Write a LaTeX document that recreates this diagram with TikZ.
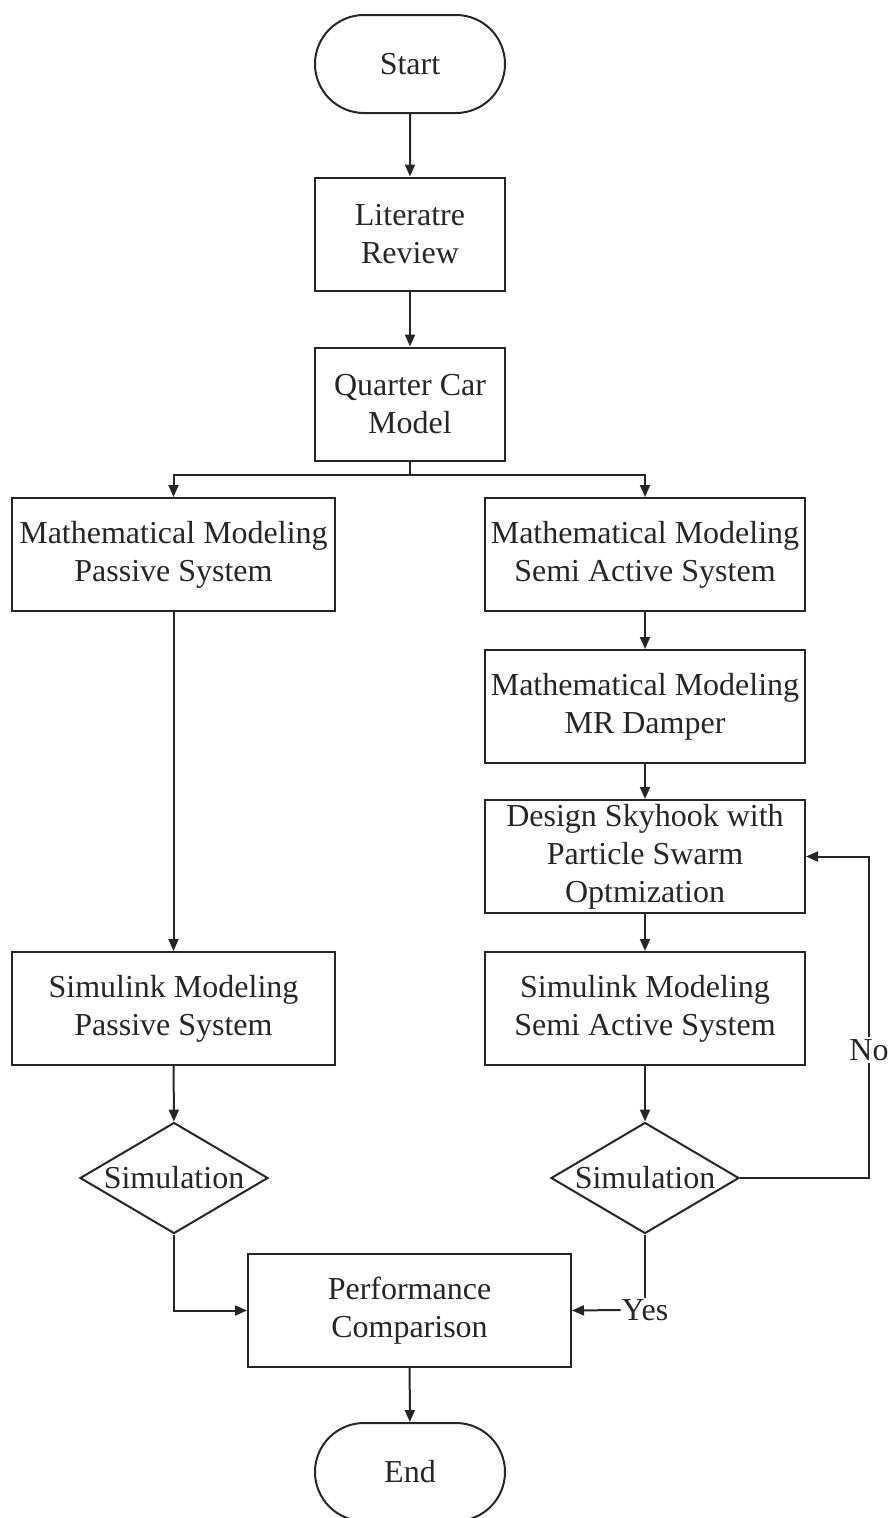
\documentclass[tikz,border=0pt]{standalone}
\usepackage{fontspec}
\setmainfont{Liberation Serif}
\usetikzlibrary{shapes.misc,shapes.geometric,arrows.meta,positioning}
\begin{document}
\begin{tikzpicture}[x=1pt,y=-1pt,
  every node/.style={font=\fontsize{32}{38}\selectfont, text=black!85},
  base/.style={draw=black!85, line width=2pt, align=center, inner sep=0pt},
  wide/.style={base, rectangle, minimum width=320pt, minimum height=113pt},
  narrow/.style={base, rectangle, minimum width=190pt, minimum height=113pt},
  term/.style={base, rounded rectangle, minimum width=190pt, minimum height=98pt},
  decide/.style={base, diamond, aspect=1.69, minimum width=188pt, minimum height=111pt},
  conn/.style={draw=black!85, line width=2pt},
  arr/.style={conn, -{Triangle[length=12pt,width=10pt]}}
]
\useasboundingbox (0,0) rectangle (890,1518);
\node[term] (start) at (410,64) {Start};
\node[narrow] (lit) at (410,234) {Literatre\\Review};
\node[narrow] (qcm) at (410,404) {Quarter Car\\Model};
\node[wide, minimum width=323pt] (mmp) at (173.5,554.5) {Mathematical Modeling\\Passive System};
\node[wide] (mms) at (645,554.5) {Mathematical Modeling\\Semi Active System};
\node[wide] (mr) at (645,706.5) {Mathematical Modeling\\MR Damper};
\node[wide] (sky) at (645,856.5) {Design Skyhook with\\Particle Swarm\\Optmization};
\node[wide, minimum width=323pt] (slp) at (173.5,1008.5) {Simulink Modeling\\Passive System};
\node[wide] (sls) at (645,1008.5) {Simulink Modeling\\Semi Active System};
\node[decide] (dl) at (174,1178) {Simulation};
\node[decide] (dr) at (645,1178) {Simulation};
\node[base, rectangle, minimum width=323pt, minimum height=113pt] (perf) at (409.5,1310.5) {Performance\\Comparison};
\node[term] (stop) at (410,1472) {End};
\node[inner sep=1pt] (yes) at (645,1310) {Yes};
\coordinate (br) at (410,475);
\coordinate (nc) at (869,1178);

\draw[arr] (start) -- (lit);
\draw[arr] (lit) -- (qcm);
\draw[conn] (qcm.south) -- (br);
\draw[arr] (br) -| (mmp.north);
\draw[arr] (br) -| (mms.north);
\draw[arr] (mmp) -- (slp);
\draw[arr] (mms) -- (mr);
\draw[arr] (mr) -- (sky);
\draw[arr] (sky) -- (sls);
\draw[arr] (slp) -- (dl);
\draw[arr] (sls) -- (dr);
\draw[arr] (dl.south) |- (perf.west);
\draw[conn] (dr.south) -- (yes.north);
\draw[arr] (yes.west) -- (perf.east);
\draw[arr] (dr.east) -- (nc) |- (sky.east);
\node[fill=white, inner sep=2pt] (no) at (869,1050) {No};
\draw[arr] (perf) -- (stop);
\end{tikzpicture}
\end{document}
